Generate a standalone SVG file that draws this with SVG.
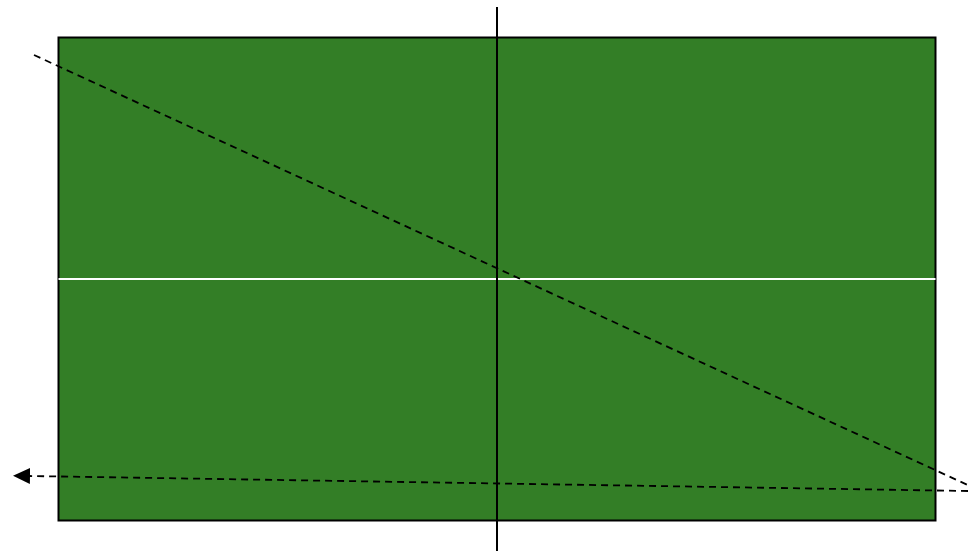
<svg xmlns="http://www.w3.org/2000/svg" width="968" height="553" viewBox="0 0 968 553">
<style>
.court{fill:#337E26;stroke:#000;stroke-width:2}
.traj{fill:none;stroke:#000;stroke-width:1.8;stroke-dasharray:7 5}
</style>
<defs>
<marker id="ah" viewBox="0 0 17 16" refX="0" refY="8" markerWidth="17" markerHeight="16" markerUnits="userSpaceOnUse" orient="auto">
<path d="M0,0 L17,8 L0,16 z" fill="#000"/>
</marker>
</defs>
<rect width="968" height="553" fill="#fff"/>
<g id="court">
<rect class="court" x="58.5" y="37.5" width="877" height="483"/>
<line x1="58.5" y1="279" x2="935.5" y2="279" stroke="#fff" stroke-width="2"/>
</g>
<g id="net">
<line x1="497" y1="7" x2="497" y2="551" stroke="#000" stroke-width="2"/>
</g>
<g id="connectors">
<line class="traj" x1="34" y1="55" x2="972" y2="487"/>
<line class="traj" x1="968" y1="491" x2="30" y2="476" marker-end="url(#ah)"/>
</g>
</svg>
